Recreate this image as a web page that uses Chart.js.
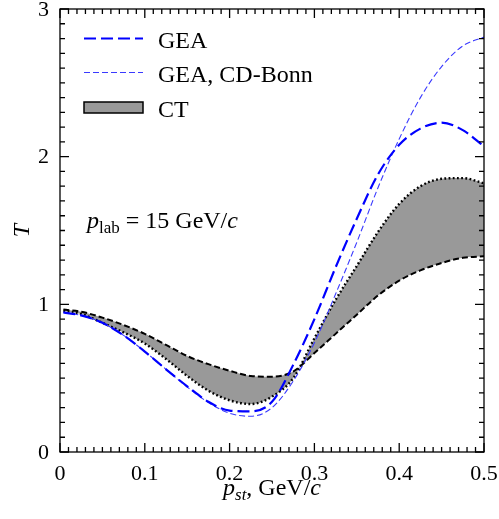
<!DOCTYPE html>
<html>
<head>
<meta charset="utf-8">
<script src="https://cdn.jsdelivr.net/npm/chart.js@4"></script>
<style>
  html, body { margin: 0; padding: 0; background: #fff; }
  #wrap { width: 499px; height: 519px; position: relative; }
</style>
</head>
<body>
<div id="wrap"><canvas id="chart"></canvas></div>
<script>
/* ===== Data ===== */
const pst = [0.004, 0.025, 0.05, 0.075, 0.1, 0.125, 0.15, 0.175, 0.2, 0.225, 0.25,
             0.275, 0.3, 0.325, 0.35, 0.375, 0.4, 0.425, 0.45, 0.475, 0.5];
const gea = [0.945, 0.925, 0.875, 0.79, 0.68, 0.56, 0.445, 0.34, 0.28, 0.275, 0.34,
             0.59, 0.90, 1.25, 1.58, 1.88, 2.08, 2.19, 2.23, 2.18, 2.07];
const geaBonn = [0.945, 0.925, 0.875, 0.79, 0.68, 0.56, 0.44, 0.335, 0.262, 0.242, 0.30,
                 0.48, 0.74, 1.07, 1.42, 1.79, 2.12, 2.40, 2.61, 2.75, 2.81];
const ctDashed = [0.965, 0.95, 0.91, 0.86, 0.80, 0.725, 0.65, 0.595, 0.55, 0.515, 0.51,
                  0.545, 0.67, 0.80, 0.93, 1.06, 1.16, 1.23, 1.28, 1.315, 1.325];
const ctDotted = [0.955, 0.935, 0.875, 0.81, 0.735, 0.63, 0.515, 0.415, 0.35, 0.325, 0.375,
                  0.50, 0.77, 1.03, 1.26, 1.49, 1.68, 1.80, 1.85, 1.855, 1.82];

const xTicks = [0, 0.1, 0.2, 0.3, 0.4, 0.5];
const yTicks = [0, 1, 2, 3];
const legendLabels = ['GEA', 'GEA, CD-Bonn', 'CT'];

const blue = '#0000ff';
const blueThin = '#3a3aff';
const band = '#999999';
const serif = "'Liberation Serif', 'DejaVu Serif', serif";

const pts = (ys) => pst.map((x, i) => ({ x, y: ys[i] }));
const fmt = (v) => v === 0 ? '0' : (Number.isInteger(v) ? String(v) : v.toFixed(1));

/* ===== Helpers for mixed-style text ===== */
function richWidth(ctx, parts) {
  return parts.reduce((w, p) => { ctx.font = p.font; return w + ctx.measureText(p.t).width; }, 0);
}
function drawRich(ctx, parts, x, y) {
  parts.forEach(p => {
    ctx.font = p.font;
    ctx.fillText(p.t, x, y + (p.dy || 0));
    x += ctx.measureText(p.t).width;
  });
}

/* ===== Frame, ticks, legend and labels ===== */
const decorations = {
  id: 'decorations',
  afterDraw(chart) {
    const { ctx, chartArea: a, scales: { x, y } } = chart;
    ctx.save();
    ctx.strokeStyle = '#000';
    ctx.lineWidth = 1.3;
    ctx.strokeRect(a.left, a.top, a.right - a.left, a.bottom - a.top);

    ctx.beginPath();
    for (let i = 0; i <= 50; i++) {
      const px = x.getPixelForValue(i / 100);
      const len = i % 10 === 0 ? 9 : 5;
      ctx.moveTo(px, a.bottom); ctx.lineTo(px, a.bottom - len);
      ctx.moveTo(px, a.top); ctx.lineTo(px, a.top + len);
    }
    for (let i = 0; i <= 30; i++) {
      const py = y.getPixelForValue(i / 10);
      const len = i % 10 === 0 ? 9 : 5;
      ctx.moveTo(a.left, py); ctx.lineTo(a.left + len, py);
      ctx.moveTo(a.right, py); ctx.lineTo(a.right - len, py);
    }
    ctx.stroke();

    // tick labels
    ctx.fillStyle = '#000';
    ctx.font = '22px ' + serif;
    ctx.textAlign = 'center';
    ctx.textBaseline = 'alphabetic';
    xTicks.forEach(v => ctx.fillText(fmt(v), x.getPixelForValue(v), 480));
    ctx.textAlign = 'right';
    ctx.textBaseline = 'middle';
    yTicks.forEach(v => ctx.fillText(fmt(v), 49, y.getPixelForValue(v) + 1));

    // legend
    const ds = chart.data.datasets;
    const lx0 = 84, lx1 = 143, tx = 158;
    ctx.textBaseline = 'alphabetic';
    ctx.textAlign = 'left';
    [[ds[0], 38.5], [ds[1], 72.5]].forEach(([d, ly]) => {
      ctx.beginPath();
      ctx.strokeStyle = d.borderColor;
      ctx.lineWidth = d.borderWidth;
      ctx.setLineDash(d.borderDash);
      ctx.moveTo(lx0, ly); ctx.lineTo(lx1, ly);
      ctx.stroke();
    });
    ctx.setLineDash([]);
    ctx.fillStyle = band;
    ctx.fillRect(lx0, 102, lx1 - lx0, 11);
    ctx.strokeStyle = '#000';
    ctx.lineWidth = 1.5;
    ctx.strokeRect(lx0, 102, lx1 - lx0, 11);

    ctx.fillStyle = '#000';
    ctx.font = '24px ' + serif;
    ctx.fillText(legendLabels[0], tx, 48);
    ctx.fillText(legendLabels[1], tx, 82);
    ctx.fillText(legendLabels[2], tx, 117);

    // annotation
    drawRich(ctx, [
      { t: 'p', font: 'italic 24px ' + serif },
      { t: 'lab', font: '17px ' + serif, dy: 5 },
      { t: ' = 15 GeV/', font: '24px ' + serif },
      { t: 'c', font: 'italic 24px ' + serif }
    ], 87, 228);

    // x axis title
    const xt = [
      { t: 'p', font: 'italic 24px ' + serif },
      { t: 'st', font: 'italic 17px ' + serif, dy: 5 },
      { t: ', GeV/', font: '24px ' + serif },
      { t: 'c', font: 'italic 24px ' + serif }
    ];
    const xw = richWidth(ctx, xt);
    drawRich(ctx, xt, (a.left + a.right) / 2 - xw / 2, 495);

    // y axis title
    ctx.translate(29, (a.top + a.bottom) / 2);
    ctx.rotate(-Math.PI / 2);
    ctx.textAlign = 'center';
    ctx.font = 'italic 24px ' + serif;
    ctx.fillText('T', 0, 0);
    ctx.restore();
  }
};

/* ===== Chart ===== */
new Chart(document.getElementById('chart'), {
  type: 'line',
  data: {
    datasets: [
      {
        label: legendLabels[0], data: pts(gea),
        borderColor: blue, borderWidth: 2.2, borderDash: [12, 5]
      },
      {
        label: legendLabels[1], data: pts(geaBonn),
        borderColor: blueThin, borderWidth: 1.1, borderDash: [6, 3]
      },
      {
        label: 'CT upper', data: pts(ctDashed),
        borderColor: '#000', borderWidth: 2, borderDash: [6, 3]
      },
      {
        label: legendLabels[2], data: pts(ctDotted),
        borderColor: '#000', borderWidth: 2.4, borderDash: [1.8, 2.4],
        fill: '-1', backgroundColor: band
      }
    ]
  },
  options: {
    responsive: true,
    maintainAspectRatio: false,
    animation: false,
    layout: { padding: { top: 9, right: 15, left: 0, bottom: 0 } },
    elements: {
      point: { radius: 0 },
      line: { cubicInterpolationMode: 'monotone', fill: false }
    },
    scales: {
      x: {
        type: 'linear', min: 0, max: 0.5,
        afterFit: (s) => { s.height = 67; },
        grid: { display: false, drawTicks: false },
        border: { display: false },
        ticks: { display: false }
      },
      y: {
        type: 'linear', min: 0, max: 3,
        afterFit: (s) => { s.width = 60; },
        grid: { display: false, drawTicks: false },
        border: { display: false },
        ticks: { display: false }
      }
    },
    plugins: {
      legend: { display: false },
      tooltip: { enabled: false }
    }
  },
  plugins: [decorations]
});
</script>
</body>
</html>
